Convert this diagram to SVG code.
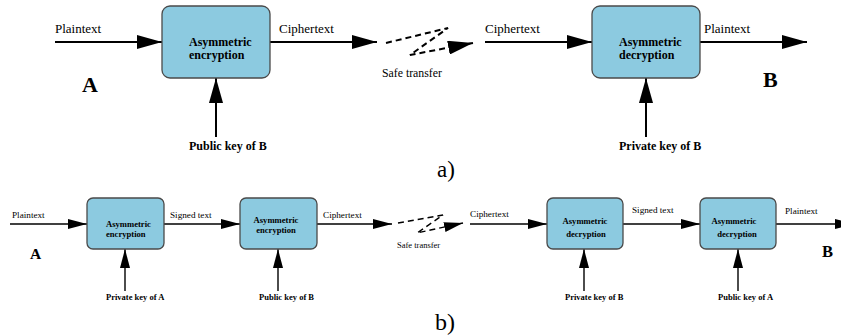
<svg xmlns="http://www.w3.org/2000/svg" width="841" height="335" viewBox="0 0 841 335">
<style>
.box{fill:#8ccae0;stroke:#4a4a4a;stroke-width:1.3}
.t{font-family:"Liberation Serif","Times New Roman",serif;fill:#000}
.bl{font-weight:bold}
.ln{stroke:#000;fill:none}
.big{stroke-width:2}
.sm{stroke-width:1.4}
.dash{stroke-dasharray:6 4}
</style>
<defs>
<marker id="ahA" markerUnits="userSpaceOnUse" markerWidth="25" markerHeight="14" refX="25" refY="7" orient="auto">
<path d="M0,0 L25,7 L0,14 z" fill="#000"/>
</marker>
<marker id="ahB" markerUnits="userSpaceOnUse" markerWidth="19" markerHeight="10" refX="19" refY="5" orient="auto">
<path d="M0,0 L19,5 L0,10 z" fill="#000"/>
</marker>
</defs>
<rect width="841" height="335" fill="#fff"/>

<g id="connectors">
<!-- a) -->
<line class="ln big" x1="55" y1="42" x2="162" y2="42" marker-end="url(#ahA)"/>
<line class="ln big" x1="270" y1="42" x2="377" y2="42" marker-end="url(#ahA)"/>
<polyline class="ln big dash" points="386,43 448,28 410,55 473,43" marker-end="url(#ahA)"/>
<line class="ln big" x1="485" y1="42" x2="592" y2="42" marker-end="url(#ahA)"/>
<line class="ln big" x1="700" y1="42" x2="807" y2="42" marker-end="url(#ahA)"/>
<line class="ln big" x1="216" y1="137" x2="216" y2="78" marker-end="url(#ahA)"/>
<line class="ln big" x1="646" y1="137" x2="646" y2="78" marker-end="url(#ahA)"/>
<!-- b) -->
<line class="ln sm" x1="10" y1="224" x2="87" y2="224" marker-end="url(#ahB)"/>
<line class="ln sm" x1="164" y1="224" x2="240" y2="224" marker-end="url(#ahB)"/>
<line class="ln sm" x1="317" y1="224" x2="392" y2="224" marker-end="url(#ahB)"/>
<polyline class="ln sm dash" points="398,223 443,215 417,233 463,223" marker-end="url(#ahB)"/>
<line class="ln sm" x1="470" y1="224" x2="547" y2="224" marker-end="url(#ahB)"/>
<line class="ln sm" x1="623" y1="224" x2="700" y2="224" marker-end="url(#ahB)"/>
<line class="ln sm" x1="776" y1="224" x2="854" y2="224" marker-end="url(#ahB)"/>
<line class="ln sm" x1="125" y1="291" x2="125" y2="249" marker-end="url(#ahB)"/>
<line class="ln sm" x1="278" y1="291" x2="278" y2="249" marker-end="url(#ahB)"/>
<line class="ln sm" x1="584" y1="291" x2="584" y2="249" marker-end="url(#ahB)"/>
<line class="ln sm" x1="738" y1="291" x2="738" y2="249" marker-end="url(#ahB)"/>
</g>

<g id="labels-a" class="t" font-size="13">
<text x="55" y="33">Plaintext</text>
<text x="279" y="33">Ciphertext</text>
<text x="485" y="33">Ciphertext</text>
<text x="704" y="33">Plaintext</text>
<text x="382" y="77" font-size="11.8">Safe transfer</text>
<text x="82" y="92" font-size="22" class="bl">A</text>
<text x="763" y="87" font-size="22" class="bl">B</text>
<text x="437" y="177" font-size="23">a)</text>
</g>

<g id="enc-a">
<rect class="box" x="162" y="6" width="108" height="72" rx="8"/>
<text class="t bl" x="189" y="46" font-size="12">Asymmetric</text>
<text class="t bl" x="189" y="59" font-size="12">encryption</text>
</g>
<g id="dec-a">
<rect class="box" x="592" y="6" width="108" height="72" rx="8"/>
<text class="t bl" x="619" y="46" font-size="12">Asymmetric</text>
<text class="t bl" x="619" y="59" font-size="12">decryption</text>
</g>
<g id="key-a1"><text class="t bl" x="189" y="150" font-size="12">Public key of B</text></g>
<g id="key-a2"><text class="t bl" x="619" y="150" font-size="12">Private key of B</text></g>

<g id="labels-b" class="t" font-size="9.2">
<text x="12" y="218">Plaintext</text>
<text x="170" y="218">Signed text</text>
<text x="323" y="218">Ciphertext</text>
<text x="397" y="248" font-size="8.5">Safe transfer</text>
<text x="470" y="217">Ciphertext</text>
<text x="632" y="213">Signed text</text>
<text x="785" y="214">Plaintext</text>
<text x="30" y="259" font-size="15.5" class="bl">A</text>
<text x="822" y="257" font-size="16.5" class="bl">B</text>
<text x="435" y="330" font-size="24">b)</text>
</g>

<g id="enc-b1">
<rect class="box" x="87" y="198" width="77" height="51" rx="6"/>
<text class="t bl" x="106" y="227" font-size="8.6">Asymmetric</text>
<text class="t bl" x="106" y="237" font-size="8.6">encryption</text>
</g>
<g id="enc-b2">
<rect class="box" x="240" y="198" width="77" height="51" rx="6"/>
<text class="t bl" x="276" y="223" font-size="8.6" text-anchor="middle">Asymmetric</text>
<text class="t bl" x="276" y="233" font-size="8.6" text-anchor="middle">encryption</text>
</g>
<g id="dec-b1">
<rect class="box" x="547" y="198" width="76" height="51" rx="6"/>
<text class="t bl" x="585" y="224" font-size="8.6" text-anchor="middle">Asymmetric</text>
<text class="t bl" x="586" y="237" font-size="8.6" text-anchor="middle">decryption</text>
</g>
<g id="dec-b2">
<rect class="box" x="700" y="198" width="76" height="51" rx="6"/>
<text class="t bl" x="734" y="224" font-size="8.6" text-anchor="middle">Asymmetric</text>
<text class="t bl" x="737" y="237" font-size="8.6" text-anchor="middle">decryption</text>
</g>
<g id="key-b1"><text class="t bl" x="106" y="300" font-size="8.5">Private key of A</text></g>
<g id="key-b2"><text class="t bl" x="259" y="300" font-size="8.5">Public key of B</text></g>
<g id="key-b3"><text class="t bl" x="565" y="300" font-size="8.5">Private key of B</text></g>
<g id="key-b4"><text class="t bl" x="718" y="300" font-size="8.5">Public key of A</text></g>
</svg>
